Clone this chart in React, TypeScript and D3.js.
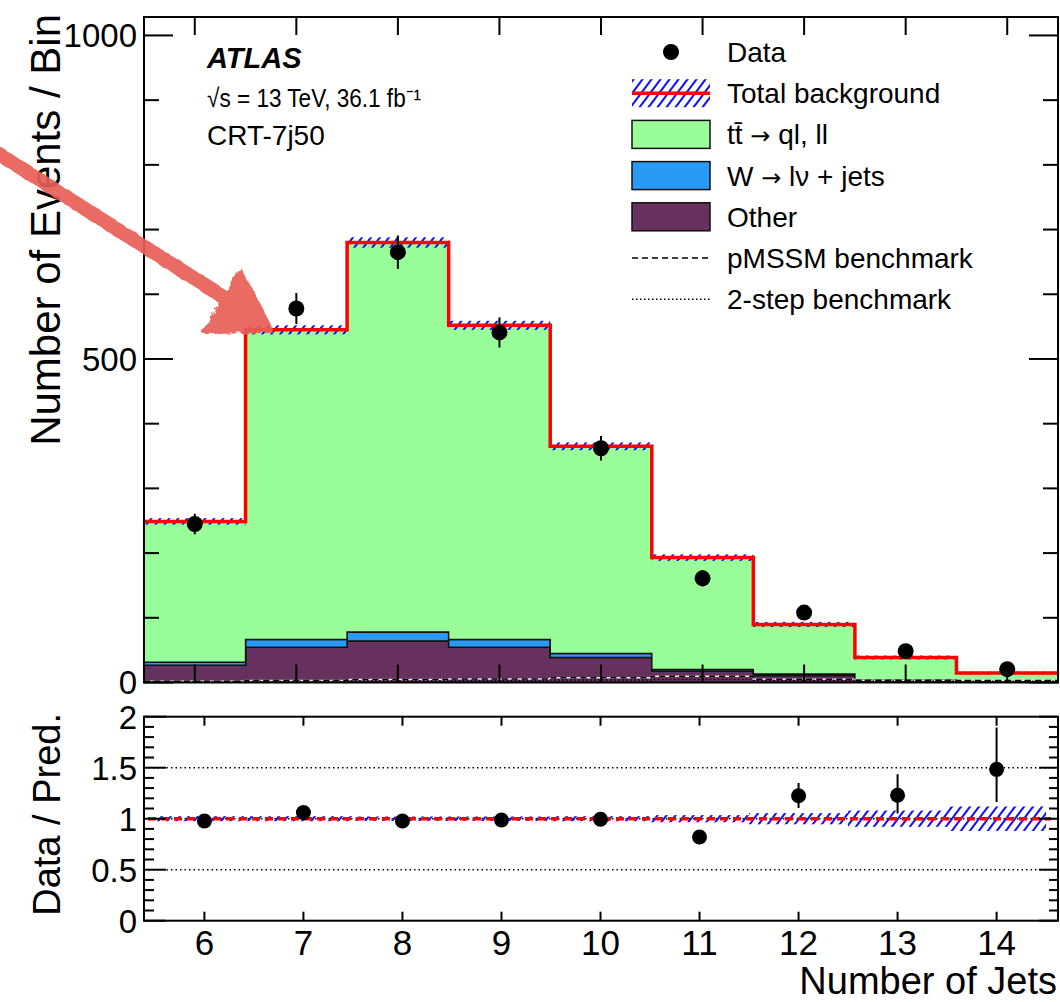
import React, { useEffect, useRef } from 'react';
import * as d3 from 'd3';

// jet multiplicity bins
const bins = [6, 7, 8, 9, 10, 11, 12, 13, 14];

// stacked backgrounds (events / bin), bottom to top
const otherBg = [26.7, 54.6, 64.3, 54.6, 38.6, 17.5, 11, 3, 1];
const wJetsBg = [4.7, 11.9, 13.9, 11.9, 6.2, 2.5, 2, 1, 0.5];
const ttbarBg = [217.6, 478.5, 601.8, 485.5, 320.2, 173, 76.7, 34.6, 13.3];
const bgUnc = [5, 7, 8, 7, 6, 5, 4, 3, 2];

// signal benchmarks
const pmssmSig = [2, 3, 4.5, 5.5, 7.5, 9.5, 5, 3.5, 3];
const twoStepSig = [1, 1.5, 2.5, 3, 4, 4.5, 3.5, 2.5, 2];

// data
const dataCounts = [245, 578, 665, 541, 362, 161, 108, 48.4, 20.6];
const dataErr = [15.7, 24, 25.8, 23.3, 19, 12.7, 10.4, 7, 4.5];

// ratio panel
const ratioVals = [0.977, 1.06, 0.977, 0.987, 0.994, 0.82, 1.225, 1.23, 1.484];
const ratioErrUp = [0.065, 0.045, 0.04, 0.045, 0.055, 0.07, 0.125, 0.205, 0.41];
const ratioErrDn = [0.065, 0.045, 0.04, 0.045, 0.055, 0.07, 0.12, 0.18, 0.32];
const ratioBand = [0.025, 0.025, 0.022, 0.022, 0.025, 0.035, 0.055, 0.08, 0.12];

const mainYLabels = [0, 500, 1000];
const ratioYLabels = [0, 0.5, 1, 1.5, 2];

const FONT = '"Liberation Sans", Arial, Helvetica, sans-serif';
const ARROW_FONT = '"DejaVu Sans", sans-serif';
const COLORS: Record<string, string> = {
  other: '#66305f',
  wjets: '#2b9af6',
  ttbar: '#99fd99'
};

const App: React.FC = () => {
  const svgRef = useRef<SVGSVGElement>(null);

  useEffect(() => {
    if (!svgRef.current) return;
    const svg = d3.select(svgRef.current);
    svg.selectAll('*').remove();

    const main = { left: 144, right: 1058, top: 17, bottom: 682.5 };
    const rat = { left: 144, right: 1058, top: 716.7, bottom: 920.7 };

    const xM = d3.scaleLinear().domain([5.5, 14.5]).range([main.left, main.right]);
    const yM = d3.scaleLinear().domain([0, 1028.5]).range([main.bottom, main.top]);
    const xR = d3.scaleLinear().domain([5.39, 14.62]).range([rat.left, rat.right]);
    const yR = d3.scaleLinear().domain([0, 2]).range([rat.bottom, rat.top]);

    const defs = svg.append('defs');
    const hatch = defs.append('pattern')
      .attr('id', 'hatch')
      .attr('patternUnits', 'userSpaceOnUse')
      .attr('width', 9)
      .attr('height', 12);
    hatch.append('path')
      .attr('d', 'M-0.75,13 L9.75,-1 M-9.75,13 L0.75,-1 M8.25,13 L18.75,-1')
      .attr('stroke', '#1010ff')
      .attr('stroke-width', 2);

    defs.append('clipPath').attr('id', 'clipMain')
      .append('rect')
      .attr('x', main.left).attr('y', main.top)
      .attr('width', main.right - main.left).attr('height', main.bottom - main.top);
    defs.append('clipPath').attr('id', 'clipRatio')
      .append('rect')
      .attr('x', rat.left).attr('y', rat.top)
      .attr('width', rat.right - rat.left).attr('height', rat.bottom - rat.top);

    const rough = defs.append('filter').attr('id', 'rough')
      .attr('x', '-10%').attr('y', '-10%').attr('width', '120%').attr('height', '120%');
    rough.append('feTurbulence')
      .attr('type', 'fractalNoise').attr('baseFrequency', 0.12)
      .attr('numOctaves', 2).attr('seed', 4).attr('result', 'noise');
    rough.append('feDisplacementMap')
      .attr('in', 'SourceGraphic').attr('in2', 'noise').attr('scale', 7);

    svg.append('rect').attr('width', 1060).attr('height', 1002).attr('fill', 'white');

    // ---------------- main panel ----------------
    const g = svg.append('g').attr('clip-path', 'url(#clipMain)');

    const table = bins.map((b, i) => ({
      bin: b, other: otherBg[i], wjets: wJetsBg[i], ttbar: ttbarBg[i]
    }));
    const series = d3.stack<any>().keys(['other', 'wjets', 'ttbar'])(table);

    type StepPt = { x: number; lo: number; hi: number };
    const toSteps = (s: any): StepPt[] => {
      const pts: StepPt[] = s.map((d: any, i: number) => ({ x: bins[i] - 0.5, lo: d[0], hi: d[1] }));
      const last = s[s.length - 1];
      pts.push({ x: bins[bins.length - 1] + 0.5, lo: last[0], hi: last[1] });
      return pts;
    };

    const stepArea = d3.area<StepPt>()
      .curve(d3.curveStepAfter)
      .x(d => xM(d.x))
      .y0(d => yM(d.lo))
      .y1(d => yM(d.hi));

    series.forEach(s => {
      g.append('path')
        .attr('d', stepArea(toSteps(s)) || '')
        .attr('fill', COLORS[s.key])
        .attr('stroke', '#111')
        .attr('stroke-width', 1.5);
    });

    const total = series[2].map(d => d[1]);

    type LinePt = { x: number; v: number };
    const stepLine = d3.line<LinePt>()
      .curve(d3.curveStepAfter)
      .x(d => xM(d.x))
      .y(d => yM(d.v));
    const toLine = (vals: number[]): LinePt[] => [
      ...vals.map((v, i) => ({ x: bins[i] - 0.5, v })),
      { x: bins[bins.length - 1] + 0.5, v: vals[vals.length - 1] }
    ];

    // benchmarks
    g.append('path')
      .attr('d', stepLine(toLine(pmssmSig)) || '')
      .attr('fill', 'none').attr('stroke', '#eee').attr('stroke-width', 1.5);
    g.append('path')
      .attr('d', stepLine(toLine(pmssmSig)) || '')
      .attr('fill', 'none').attr('stroke', '#000').attr('stroke-width', 1.5)
      .attr('stroke-dasharray', '6,4');
    g.append('path')
      .attr('d', stepLine(toLine(twoStepSig)) || '')
      .attr('fill', 'none').attr('stroke', '#000').attr('stroke-width', 1.5)
      .attr('stroke-dasharray', '1.5,2.5');

    // uncertainty band
    g.selectAll('.band')
      .data(bins)
      .join('rect')
      .attr('class', 'band')
      .attr('x', b => xM(b - 0.5))
      .attr('width', b => xM(b + 0.5) - xM(b - 0.5))
      .attr('y', (b, i) => yM(total[i] + bgUnc[i]))
      .attr('height', (b, i) => yM(total[i] - bgUnc[i]) - yM(total[i] + bgUnc[i]))
      .attr('fill', 'url(#hatch)');

    // total background line
    g.append('path')
      .attr('d', stepLine(toLine(total)) || '')
      .attr('fill', 'none').attr('stroke', '#ff0000').attr('stroke-width', 3.5);

    // data
    g.selectAll('.derr')
      .data(bins)
      .join('line')
      .attr('class', 'derr')
      .attr('x1', b => xM(b)).attr('x2', b => xM(b))
      .attr('y1', (b, i) => yM(dataCounts[i] - dataErr[i]))
      .attr('y2', (b, i) => yM(dataCounts[i] + dataErr[i]))
      .attr('stroke', '#000').attr('stroke-width', 2);
    g.selectAll('.dpt')
      .data(bins)
      .join('circle')
      .attr('class', 'dpt')
      .attr('cx', b => xM(b))
      .attr('cy', (b, i) => yM(dataCounts[i]))
      .attr('r', 8)
      .attr('fill', '#000');

    // main axes ticks
    const ax = svg.append('g').attr('stroke', '#000').attr('stroke-width', 2);
    bins.forEach(b => {
      ax.append('line').attr('x1', xM(b)).attr('x2', xM(b))
        .attr('y1', main.top).attr('y2', main.top + 18);
      ax.append('line').attr('x1', xM(b)).attr('x2', xM(b))
        .attr('y1', main.bottom).attr('y2', main.bottom - 18);
    });
    d3.range(0, 1001, 100).forEach(v => {
      const len = v % 500 === 0 ? 29 : 15;
      ax.append('line').attr('x1', main.left).attr('x2', main.left + len)
        .attr('y1', yM(v)).attr('y2', yM(v));
      ax.append('line').attr('x1', main.right).attr('x2', main.right - len)
        .attr('y1', yM(v)).attr('y2', yM(v));
    });
    ax.append('rect')
      .attr('x', main.left).attr('y', main.top)
      .attr('width', main.right - main.left).attr('height', main.bottom - main.top)
      .attr('fill', 'none');

    svg.append('g')
      .selectAll('text')
      .data(mainYLabels)
      .join('text')
      .attr('x', 137)
      .attr('y', d => yM(d))
      .attr('dy', '0.36em')
      .attr('text-anchor', 'end')
      .style('font-family', FONT)
      .style('font-size', '33px')
      .text(d => d);

    svg.append('text')
      .attr('transform', 'translate(60,14) rotate(-90)')
      .attr('text-anchor', 'end')
      .style('font-family', FONT)
      .style('font-size', '42px')
      .text('Number of Events / Bin');

    // ATLAS label
    const lab = svg.append('g').style('font-family', FONT);
    lab.append('text').attr('x', 207).attr('y', 68)
      .style('font-size', '29px').style('font-weight', 'bold').style('font-style', 'italic')
      .text('ATLAS');
    lab.append('text').attr('x', 207).attr('y', 107)
      .style('font-size', '26px')
      .attr('textLength', 214).attr('lengthAdjust', 'spacingAndGlyphs')
      .text('\u221As = 13 TeV, 36.1 fb\u207B\u00B9');
    lab.append('text').attr('x', 207).attr('y', 145).style('font-size', '28px').text('CRT-7j50');

    // legend
    const leg = svg.append('g').style('font-family', FONT);
    const legendRows = [
      { pre: 'Data', post: '', kind: 'data' },
      { pre: 'Total background', post: '', kind: 'total' },
      { pre: 'tt\u0304 ', post: ' ql, ll', kind: 'ttbar' },
      { pre: 'W ', post: ' l\u03BD + jets', kind: 'wjets' },
      { pre: 'Other', post: '', kind: 'other' },
      { pre: 'pMSSM benchmark', post: '', kind: 'pmssm' },
      { pre: '2-step benchmark', post: '', kind: 'twostep' }
    ];
    legendRows.forEach((row, i) => {
      const cy = 52 + i * 41.2;
      const bx = 632, bw = 78;
      if (row.kind === 'data') {
        leg.append('circle').attr('cx', 671).attr('cy', cy).attr('r', 8).attr('fill', '#000');
      } else if (row.kind === 'total') {
        leg.append('rect').attr('x', bx).attr('y', cy - 14).attr('width', bw).attr('height', 28)
          .attr('fill', 'url(#hatch)');
        leg.append('line').attr('x1', bx).attr('x2', bx + bw).attr('y1', cy).attr('y2', cy)
          .attr('stroke', '#ff0000').attr('stroke-width', 3.5);
      } else if (row.kind === 'pmssm' || row.kind === 'twostep') {
        leg.append('line').attr('x1', bx).attr('x2', bx + bw).attr('y1', cy).attr('y2', cy)
          .attr('stroke', '#000').attr('stroke-width', 1.5)
          .attr('stroke-dasharray', row.kind === 'pmssm' ? '6,4' : '1.5,2.5');
      } else {
        leg.append('rect').attr('x', bx).attr('y', cy - 14).attr('width', bw).attr('height', 28)
          .attr('fill', COLORS[row.kind]).attr('stroke', '#111').attr('stroke-width', 1.5);
      }
      const t = leg.append('text').attr('x', 727).attr('y', cy + 10)
        .style('font-size', '28px');
      t.append('tspan').text(row.pre);
      if (row.post) {
        t.append('tspan').style('font-family', ARROW_FONT).style('font-size', '24px').text('\u2192');
        t.append('tspan').text(row.post);
      }
    });

    // annotation arrow
    const arrow = svg.append('g').attr('filter', 'url(#rough)').attr('opacity', 0.92);
    arrow.append('line')
      .attr('x1', -6).attr('y1', 151).attr('x2', 236).attr('y2', 305)
      .attr('stroke', '#e85f57').attr('stroke-width', 14).attr('stroke-linecap', 'round');
    arrow.append('path')
      .attr('d', 'M240,270 L204,332 L272,331 Z')
      .attr('fill', '#e85f57').attr('stroke', '#e85f57').attr('stroke-width', 4)
      .attr('stroke-linejoin', 'round');

    // ---------------- ratio panel ----------------
    const r = svg.append('g').attr('clip-path', 'url(#clipRatio)');
    [0.5, 1, 1.5].forEach(v => {
      r.append('line')
        .attr('x1', rat.left).attr('x2', rat.right)
        .attr('y1', yR(v)).attr('y2', yR(v))
        .attr('stroke', '#000').attr('stroke-width', 1.5)
        .attr('stroke-dasharray', '1.5,3');
    });
    r.selectAll('.rband')
      .data(bins)
      .join('rect')
      .attr('class', 'rband')
      .attr('x', b => xR(b - 0.5))
      .attr('width', b => xR(b + 0.5) - xR(b - 0.5))
      .attr('y', (b, i) => yR(1 + ratioBand[i]))
      .attr('height', (b, i) => yR(1 - ratioBand[i]) - yR(1 + ratioBand[i]))
      .attr('fill', 'url(#hatch)');
    r.append('line')
      .attr('x1', xR(5.43)).attr('x2', xR(14.55))
      .attr('y1', yR(1)).attr('y2', yR(1))
      .attr('stroke', '#ff0000').attr('stroke-width', 3.5)
      .attr('stroke-dasharray', '8,5');
    r.selectAll('.rerr')
      .data(bins)
      .join('line')
      .attr('class', 'rerr')
      .attr('x1', b => xR(b)).attr('x2', b => xR(b))
      .attr('y1', (b, i) => yR(ratioVals[i] - ratioErrDn[i]))
      .attr('y2', (b, i) => yR(ratioVals[i] + ratioErrUp[i]))
      .attr('stroke', '#000').attr('stroke-width', 2);
    r.selectAll('.rpt')
      .data(bins)
      .join('circle')
      .attr('class', 'rpt')
      .attr('cx', b => xR(b))
      .attr('cy', (b, i) => yR(ratioVals[i]))
      .attr('r', 7.5)
      .attr('fill', '#000');

    const rax = svg.append('g').attr('stroke', '#000').attr('stroke-width', 2);
    bins.forEach(b => {
      rax.append('line').attr('x1', xR(b)).attr('x2', xR(b))
        .attr('y1', rat.top).attr('y2', rat.top + 9);
      rax.append('line').attr('x1', xR(b)).attr('x2', xR(b))
        .attr('y1', rat.bottom).attr('y2', rat.bottom - 9);
    });
    d3.range(0, 21, 1).forEach(k => {
      const v = k / 10;
      const major = k % 5 === 0;
      rax.append('line').attr('x1', rat.left).attr('x2', rat.left + (major ? 22 : 10))
        .attr('y1', yR(v)).attr('y2', yR(v));
      rax.append('line').attr('x1', rat.right).attr('x2', rat.right - (major ? 19 : 9))
        .attr('y1', yR(v)).attr('y2', yR(v));
    });
    rax.append('rect')
      .attr('x', rat.left).attr('y', rat.top)
      .attr('width', rat.right - rat.left).attr('height', rat.bottom - rat.top)
      .attr('fill', 'none');

    svg.append('g')
      .selectAll('text')
      .data(ratioYLabels)
      .join('text')
      .attr('x', 137)
      .attr('y', d => yR(d))
      .attr('dy', '0.36em')
      .attr('text-anchor', 'end')
      .style('font-family', FONT)
      .style('font-size', '33px')
      .text(d => d);

    svg.append('g')
      .selectAll('text')
      .data(bins)
      .join('text')
      .attr('x', d => xR(d))
      .attr('y', 955)
      .attr('text-anchor', 'middle')
      .style('font-family', FONT)
      .style('font-size', '35px')
      .text(d => d);

    svg.append('text')
      .attr('transform', 'translate(60,713) rotate(-90)')
      .attr('text-anchor', 'end')
      .style('font-family', FONT)
      .style('font-size', '38px')
      .text('Data / Pred.');

    svg.append('text')
      .attr('x', 1057)
      .attr('y', 994)
      .attr('text-anchor', 'end')
      .style('font-family', FONT)
      .style('font-size', '38px')
      .text('Number of Jets');
  }, []);

  return (
    <svg
      ref={svgRef}
      width={1060}
      height={1002}
      style={{ display: 'block', position: 'absolute', left: 0, top: 0 }}
    />
  );
};

export default App;
